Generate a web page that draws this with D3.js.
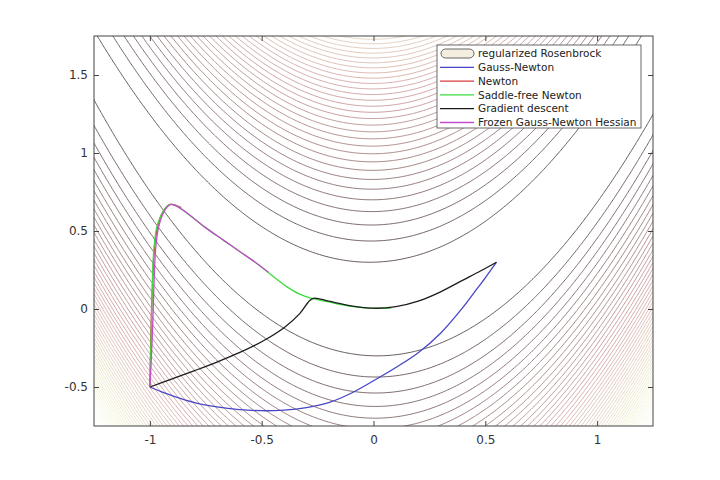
<!DOCTYPE html>
<html>
<head>
<meta charset="utf-8">
<script src="https://cdn.jsdelivr.net/npm/d3@7"></script>
<style>
body { margin: 0; background: #fff; }
</style>
</head>
<body>
<div id="chart"></div>
<script>
// rosenbrock parameters and the contour levels drawn
var rosA = 1, rosB = 100;
var levels = d3.range(10, 550, 10);

var xTicks = [-1, -0.5, 0, 0.5, 1];
var yTicks = [-0.5, 0, 0.5, 1, 1.5];

var seriesNames = ["Gauss-Newton", "Newton", "Saddle-free Newton", "Gradient descent", "Frozen Gauss-Newton Hessian"];

// trajectories, [x, y]
var gaussNewton = [[-1,-0.5],[-0.95,-0.53],[-0.9,-0.556],[-0.8,-0.6],[-0.7,-0.628],[-0.6,-0.645],[-0.5,-0.652],
  [-0.4,-0.648],[-0.3,-0.632],[-0.2,-0.6],[-0.1,-0.54],[0,-0.46],[0.1,-0.375],[0.2,-0.28],[0.3,-0.155],
  [0.4,0.01],[0.45,0.105],[0.5,0.2],[0.55,0.3]];
var newton = [[-1,-0.5],[-0.99,0.1],[-0.975,0.45],[-0.95,0.6],[-0.91,0.67],[-0.86,0.65]];
var saddleFree = [[-1,-0.5],[-0.995,-0.2],[-0.99,0.1],[-0.986,0.3],[-0.98,0.42],[-0.97,0.52],[-0.95,0.6],
  [-0.93,0.65],[-0.91,0.67],[-0.88,0.66],[-0.82,0.6],[-0.75,0.52],[-0.67,0.44],[-0.6,0.37],[-0.52,0.29],
  [-0.45,0.21],[-0.39,0.145],[-0.33,0.095],[-0.28,0.07],[-0.2,0.045],[-0.1,0.017],[0,0.004],[0.08,0.006]];
var gradDescent = [[-1,-0.5],[-0.9,-0.448],[-0.8,-0.395],[-0.7,-0.34],[-0.6,-0.28],[-0.5,-0.21],
  [-0.4,-0.12],[-0.33,-0.03],[-0.285,0.055],[-0.265,0.07],[-0.2,0.05],[-0.1,0.02],[0,0.005],[0.1,0.015],
  [0.2,0.05],[0.3,0.11],[0.4,0.185],[0.48,0.245],[0.55,0.3]];
var frozenGN = [[-1,-0.5],[-0.99,-0.2],[-0.983,0.1],[-0.978,0.3],[-0.972,0.42],[-0.962,0.52],[-0.945,0.6],
  [-0.925,0.65],[-0.905,0.67],[-0.88,0.66],[-0.82,0.6],[-0.75,0.52],[-0.67,0.44],[-0.6,0.37],
  [-0.52,0.29],[-0.47,0.235]];

var W = 720, H = 480;
var pLeft = 94, pRight = 653, pTop = 36, pBottom = 426;

var svg = d3.select("#chart").append("svg")
  .attr("width", W).attr("height", H);

var x = d3.scaleLinear().domain([-1.25, 1.25]).range([pLeft, pRight]);
var y = d3.scaleLinear().domain([-0.75, 1.75]).range([pBottom, pTop]);

function rosen(a, b) {
  return (rosA - a) * (rosA - a) + rosB * (b - a * a) * (b - a * a);
}

// matlab "pink" colormap, washed a little toward white like the reference
function pink(t) {
  var r = Math.min(1, t / 0.375),
      g = Math.max(0, Math.min(1, (t - 0.375) / 0.375)),
      b = Math.max(0, (t - 0.75) / 0.25);
  var c = d3.rgb(255 * Math.sqrt((2 * t + r) / 3), 255 * Math.sqrt((2 * t + g) / 3), 255 * Math.sqrt((2 * t + b) / 3));
  return d3.interpolateRgb(c, "#fff")(0.08 + 0.25 * t);
}

svg.append("clipPath").attr("id", "plotclip")
  .append("rect").attr("x", pLeft).attr("y", pTop)
  .attr("width", pRight - pLeft).attr("height", pBottom - pTop);

// sample a grid a bit larger than the axes so the grid border is clipped away
var n = 320, m = 320;
var gx0 = -1.3, gx1 = 1.3, gy0 = -0.8, gy1 = 1.8;
var sx = (gx1 - gx0) / (n - 1), sy = (gy1 - gy0) / (m - 1);
var values = new Array(n * m);
for (var j = 0; j < m; j++) {
  for (var i = 0; i < n; i++) {
    values[j * n + i] = rosen(gx0 + i * sx, gy0 + j * sy);
  }
}
var zmax = rosen(-1.25, -0.75);

var gridPath = d3.geoPath(d3.geoTransform({
  point: function(px, py) {
    this.stream.point(x(gx0 + (px - 0.5) * sx), y(gy0 + (py - 0.5) * sy));
  }
}));

var contours = d3.contours().size([n, m]).thresholds(levels)(values);

svg.append("g").attr("clip-path", "url(#plotclip)")
  .selectAll("path")
  .data(contours)
  .enter()
  .append("path")
  .attr("d", gridPath)
  .attr("fill", "none")
  .attr("stroke", function(d) { return pink(d.value / zmax); })
  .attr("stroke-width", 0.8);

// trajectories
var line = d3.line()
  .x(function(d) { return x(d[0]); })
  .y(function(d) { return y(d[1]); })
  .curve(d3.curveCatmullRom.alpha(0.5));

var paths = [
  {data: gaussNewton, color: "#4646c4"},
  {data: newton, color: "#d93b3b"},
  {data: saddleFree, color: "#3ddc3d"},
  {data: gradDescent, color: "#1c1c1c"},
  {data: frozenGN, color: "#c24ccc"}
];

svg.append("g").attr("clip-path", "url(#plotclip)")
  .selectAll("path")
  .data(paths)
  .enter()
  .append("path")
  .attr("d", function(d) { return line(d.data); })
  .attr("fill", "none")
  .attr("stroke", function(d) { return d.color; })
  .attr("stroke-width", 1.3);

// axes, ticks pointing inward on all four sides
var axisColor = "#444";
var plainNum = function(d) { return String(d); };
svg.append("g")
  .attr("transform", "translate(0," + pBottom + ")")
  .call(d3.axisBottom(x).tickValues(xTicks).tickSizeInner(-5).tickSizeOuter(0).tickPadding(9).tickFormat(plainNum));
svg.append("g")
  .attr("transform", "translate(" + pLeft + ",0)")
  .call(d3.axisLeft(y).tickValues(yTicks).tickSizeInner(-5).tickSizeOuter(0).tickPadding(6).tickFormat(plainNum));
svg.append("g")
  .attr("transform", "translate(0," + pTop + ")")
  .call(d3.axisTop(x).tickValues(xTicks).tickSizeInner(-5).tickSizeOuter(0).tickFormat(""));
svg.append("g")
  .attr("transform", "translate(" + pRight + ",0)")
  .call(d3.axisRight(y).tickValues(yTicks).tickSizeInner(-5).tickSizeOuter(0).tickFormat(""));

svg.selectAll(".domain").remove();
svg.selectAll(".tick line").attr("stroke", axisColor);
svg.selectAll(".tick text")
  .attr("fill", "#333")
  .attr("font-family", "DejaVu Sans")
  .attr("font-size", "12px");

svg.append("rect")
  .attr("x", pLeft).attr("y", pTop)
  .attr("width", pRight - pLeft).attr("height", pBottom - pTop)
  .attr("fill", "none")
  .attr("stroke", axisColor)
  .attr("stroke-width", 1);

// legend
var lx = 437, ly = 45, rowH = 13.8;
var legend = svg.append("g");
legend.append("rect")
  .attr("x", lx).attr("y", ly)
  .attr("width", 204).attr("height", 83)
  .attr("fill", "#fff")
  .attr("stroke", axisColor)
  .attr("stroke-width", 0.8);

var legendItems = [{name: "regularized Rosenbrock", color: null}].concat(
  seriesNames.map(function(s, k) { return {name: s, color: paths[k].color}; }));

legendItems.forEach(function(d, k) {
  var cy = ly + 8.5 + k * rowH;
  if (d.color === null) {
    legend.append("rect")
      .attr("x", lx + 4).attr("y", cy - 4.5)
      .attr("width", 33).attr("height", 9)
      .attr("rx", 4.5)
      .attr("fill", "#f4eee0")
      .attr("stroke", "#555")
      .attr("stroke-width", 0.9);
  } else {
    legend.append("line")
      .attr("x1", lx + 3).attr("x2", lx + 37)
      .attr("y1", cy).attr("y2", cy)
      .attr("stroke", d.color)
      .attr("stroke-width", 1.3);
  }
  legend.append("text")
    .attr("x", lx + 41).attr("y", cy)
    .attr("dy", "0.35em")
    .attr("font-family", "DejaVu Sans")
    .attr("font-size", "10.5px")
    .attr("fill", "#222")
    .text(d.name);
});
</script>
</body>
</html>
